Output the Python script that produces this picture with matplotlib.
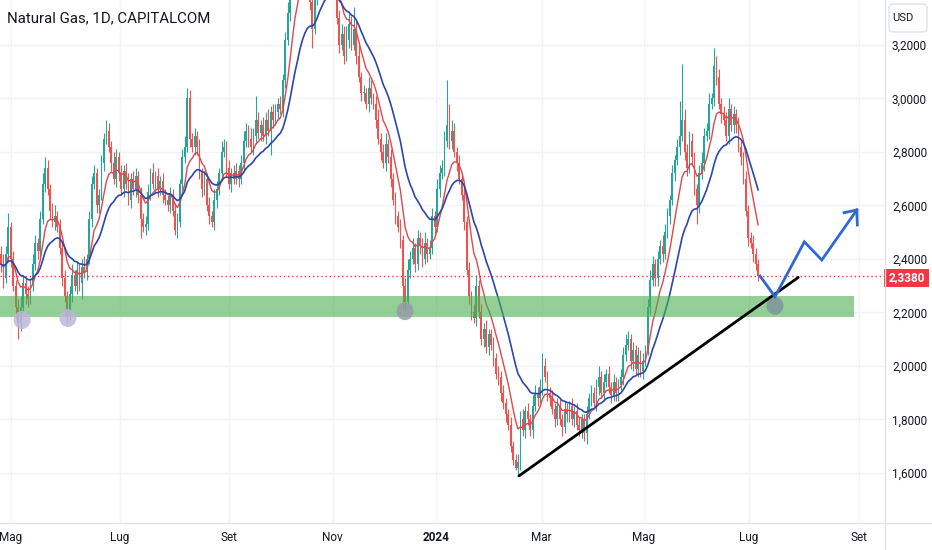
import matplotlib
matplotlib.use('Agg')
import matplotlib.pyplot as plt
import numpy as np
import pandas as pd
from matplotlib.patches import Ellipse, FancyBboxPatch, Rectangle
from matplotlib.lines import Line2D
from matplotlib import font_manager

# ---------------- data ----------------
title = "Natural Gas, 1D, CAPITALCOM"
first_open = 2.42
closes = [
    2.38, 2.33, 2.42, 2.52, 2.40, 2.30, 2.22, 2.16, 2.22, 2.31, 2.27, 2.25,
    2.31, 2.38, 2.46, 2.43, 2.55, 2.68, 2.74, 2.66, 2.58, 2.54, 2.56, 2.52,
    2.44, 2.33, 2.26, 2.19, 2.27, 2.34, 2.30, 2.36, 2.31, 2.37, 2.35, 2.40,
    2.55, 2.68, 2.72, 2.60, 2.64, 2.76, 2.85, 2.88, 2.82, 2.76, 2.70, 2.78,
    2.72, 2.66, 2.73, 2.68, 2.62, 2.70, 2.66, 2.71, 2.64, 2.55, 2.52, 2.53,
    2.65, 2.72, 2.68, 2.71, 2.66, 2.69, 2.64, 2.62, 2.60, 2.64, 2.58, 2.51,
    2.54, 2.68, 2.78, 2.82, 3.00, 2.85, 2.82, 2.86, 2.82, 2.72, 2.66, 2.70,
    2.60, 2.56, 2.54, 2.62, 2.66, 2.72, 2.80, 2.82, 2.74, 2.68, 2.72, 2.70,
    2.73, 2.70, 2.76, 2.84, 2.88, 2.85, 2.82, 2.86, 2.92, 2.87, 2.90, 2.86,
    2.92, 2.88, 2.95, 2.92, 2.95, 2.98, 2.96, 3.07, 3.22, 3.32, 3.45, 3.55,
    3.60, 3.54, 3.62, 3.56, 3.50, 3.44, 3.36, 3.26, 3.38, 3.50, 3.58, 3.54,
    3.56, 3.50, 3.44, 3.48, 3.40, 3.30, 3.20, 3.24, 3.16, 3.22, 3.28, 3.20,
    3.26, 3.16, 3.08, 3.02, 3.02, 2.98, 3.04, 3.00, 2.98, 2.92, 2.85, 2.80,
    2.76, 2.83, 2.78, 2.70, 2.62, 2.56, 2.52, 2.47, 2.30, 2.24, 2.36, 2.40,
    2.44, 2.38, 2.48, 2.45, 2.40, 2.46, 2.42, 2.44, 2.56, 2.52, 2.66, 2.72,
    2.74, 2.84, 2.90, 2.84, 2.88, 2.80, 2.76, 2.70, 2.64, 2.54, 2.36, 2.26,
    2.20, 2.18, 2.30, 2.20, 2.10, 2.14, 2.07, 2.12, 2.08, 2.03, 1.97, 1.96,
    1.90, 1.86, 1.82, 1.78, 1.70, 1.65, 1.62, 1.64, 1.80, 1.76, 1.83, 1.80,
    1.76, 1.85, 1.90, 1.88, 1.92, 2.00, 1.96, 1.90, 1.88, 1.84, 1.80, 1.85,
    1.80, 1.77, 1.84, 1.82, 1.85, 1.80, 1.83, 1.78, 1.76, 1.80, 1.75, 1.82,
    1.88, 1.90, 1.86, 1.92, 1.96, 1.90, 1.94, 1.97, 1.92, 1.89, 1.94, 1.90,
    1.93, 1.96, 2.04, 2.08, 2.10, 2.02, 2.06, 1.99, 2.04, 1.98, 2.02, 2.06,
    2.22, 2.32, 2.38, 2.33, 2.40, 2.45, 2.42, 2.50, 2.56, 2.62, 2.72, 2.77,
    2.82, 2.86, 2.92, 2.80, 2.74, 2.84, 2.78, 2.66, 2.60, 2.72, 2.76, 2.86,
    2.88, 2.98, 3.00, 3.12, 3.08, 2.98, 2.94, 2.92, 2.86, 2.96, 2.90, 2.94,
    2.90, 2.82, 2.78, 2.70, 2.58, 2.48, 2.46, 2.42, 2.38, 2.338,
]
wick_up = [
    .03, .04, .03, .05, .02, .03, .02, .03, .04, .03, .02, .03,
    .02, .04, .03, .02, .03, .04, .04, .03, .02, .03, .04, .02,
    .03, .02, .03, .02, .03, .04, .02, .03, .02, .03, .04, .02,
    .03, .03, .03, .02, .02, .03, .02, .04, .03, .02, .04, .03,
    .02, .03, .02, .03, .04, .02, .03, .03, .02, .03, .02, .03,
    .03, .02, .04, .02, .03, .02, .03, .02, .02, .03, .02, .03,
    .03, .02, .03, .04, .04, .03, .02, .03, .02, .03, .02, .03,
    .02, .03, .02, .04, .03, .02, .04, .03, .02, .03, .02, .03,
    .03, .02, .03, .04, .03, .02, .04, .03, .09, .03, .02, .03,
    .03, .04, .02, .03, .03, .02, .03, .02, .03, .04, .03, .04,
    .04, .03, .04, .03, .03, .04, .03, .02, .03, .04, .03, .02,
    .04, .03, .02, .03, .03, .04, .03, .04, .03, .05, .04, .03,
    .08, .03, .04, .02, .03, .02, .04, .03, .02, .03, .04, .02,
    .03, .04, .02, .03, .02, .03, .02, .03, .02, .03, .04, .03,
    .04, .02, .03, .02, .03, .04, .02, .03, .03, .02, .04, .03,
    .03, .04, .17, .08, .04, .03, .02, .03, .02, .03, .02, .03,
    .02, .03, .04, .02, .03, .02, .03, .02, .02, .03, .02, .03,
    .02, .03, .02, .02, .03, .02, .02, .03, .03, .04, .02, .03,
    .02, .04, .03, .02, .03, .05, .03, .02, .02, .03, .02, .03,
    .03, .02, .03, .02, .02, .03, .02, .03, .03, .02, .02, .03,
    .02, .03, .02, .03, .04, .02, .03, .02, .03, .02, .03, .02,
    .02, .03, .03, .04, .03, .02, .03, .02, .03, .02, .03, .02,
    .03, .04, .03, .02, .03, .02, .04, .03, .03, .02, .03, .02,
    .03, .13, .21, .04, .03, .04, .03, .02, .02, .03, .04, .03,
    .03, .04, .02, .07, .04, .03, .02, .03, .03, .04, .02, .03,
    .02, .03, .02, .02, .03, .02, .02, .03, .02, .02,
]
wick_dn = [
    .03, .04, .02, .03, .03, .02, .04, .06, .03, .02, .04, .03,
    .02, .03, .02, .03, .03, .02, .03, .02, .03, .02, .03, .02,
    .02, .03, .02, .03, .02, .03, .02, .03, .03, .06, .02, .03,
    .02, .03, .02, .03, .03, .02, .03, .02, .02, .03, .02, .03,
    .03, .02, .03, .02, .02, .03, .02, .03, .03, .07, .02, .03,
    .02, .03, .02, .03, .03, .02, .03, .02, .02, .03, .02, .02,
    .03, .02, .03, .02, .02, .03, .02, .03, .03, .02, .03, .02,
    .02, .03, .02, .03, .03, .02, .03, .02, .03, .02, .03, .02,
    .02, .03, .02, .03, .02, .03, .02, .03, .03, .02, .03, .02,
    .03, .02, .09, .03, .02, .03, .02, .03, .03, .02, .03, .02,
    .03, .02, .03, .02, .03, .02, .03, .07, .02, .03, .02, .03,
    .03, .02, .03, .02, .03, .02, .03, .02, .03, .02, .03, .02,
    .02, .03, .02, .03, .03, .02, .03, .02, .02, .03, .02, .03,
    .02, .03, .02, .03, .02, .03, .02, .03, .09, .03, .02, .03,
    .02, .03, .02, .03, .03, .02, .03, .02, .02, .03, .02, .03,
    .02, .03, .02, .03, .03, .02, .03, .02, .02, .03, .02, .03,
    .03, .02, .03, .02, .02, .03, .02, .03, .02, .03, .02, .03,
    .03, .02, .03, .02, .02, .02, .01, .03, .03, .02, .03, .02,
    .02, .03, .02, .03, .02, .03, .02, .03, .03, .02, .03, .02,
    .02, .03, .02, .03, .03, .02, .03, .02, .02, .03, .03, .04,
    .02, .03, .02, .03, .03, .02, .03, .02, .02, .03, .02, .03,
    .03, .02, .03, .02, .02, .03, .04, .02, .03, .02, .03, .02,
    .02, .03, .02, .03, .03, .02, .03, .02, .02, .03, .02, .03,
    .02, .03, .02, .03, .03, .02, .03, .02, .07, .03, .02, .03,
    .02, .03, .02, .03, .03, .02, .03, .02, .02, .03, .02, .03,
    .03, .02, .03, .02, .02, .03, .02, .03, .02, .02,
]
last_price = 2.338

month_labels = ["Mag", "Lug", "Set", "Nov", "2024", "Mar", "Mag", "Lug", "Set"]
month_pos = [3.96, 48.6, 93.1, 135.4, 177.6, 220.7, 262.4, 305.3, 350.2]
price_ticks = [1.6, 1.8, 2.0, 2.2, 2.4, 2.6, 2.8, 3.0, 3.2]

zone_lo, zone_hi, zone_end = 2.184, 2.262, 348.2
trend_x = [211.4, 325.4]
trend_y = [1.589, 2.331]
proj_x = [309.8, 315.9, 327.9, 335.0, 349.3]
proj_y = [2.336, 2.259, 2.464, 2.396, 2.583]
arrow_x = [344.1, 349.3, 349.5]
arrow_y = [2.573, 2.583, 2.527]
circle_x = [8.6, 27.3, 164.9, 315.9]
circle_y = [2.172, 2.179, 2.205, 2.225]
circle_fc = ['#bdb5da', '#bdb5da', '#959ca8', '#7f9699']

# ---------------- figure ----------------
avail = {f.name for f in font_manager.fontManager.ttflist}
FONT = 'Liberation Sans Narrow' if 'Liberation Sans Narrow' in avail else 'Roboto'
plt.rcParams['font.family'] = [FONT, 'DejaVu Sans']

W, H = 932, 550
AX_R, AX_B = 885, 523
fig = plt.figure(figsize=(W / 100, H / 100), dpi=100)
fig.patch.set_facecolor('white')
ax = fig.add_axes([0, 1 - AX_B / H, AX_R / W, AX_B / H])
XL = (-0.41, 360.8)
YL = (1.413, 3.368)
ax.set_xlim(*XL)
ax.set_ylim(*YL)

c = np.array(closes)
o = np.r_[first_open, c[:-1]]
idx = np.arange(len(c))
up = c >= o
cols = np.where(up, '#26a69a', '#ef5350')
blo = np.minimum(o, c)
bhi = np.maximum(o, c)
hi = bhi + np.array(wick_up)
lo = blo - np.array(wick_dn)

# grid
for p in price_ticks:
    ax.axhline(p, color='#f0f3fa', lw=1, zorder=0)
for m in month_pos:
    ax.axvline(m, color='#f0f3fa', lw=1, zorder=0)

ax.vlines(idx, lo, hi, colors=cols, lw=0.8, zorder=2)
ax.bar(idx, np.maximum(bhi - blo, 0.004), bottom=blo, width=0.7, color=cols,
       lw=0, zorder=2)

s = pd.Series(c)
ma_fast = s.ewm(span=9, adjust=False).mean()
ma_slow = s.ewm(span=21, adjust=False).mean()
ax.plot(idx, ma_fast, color='#e0474f', lw=1.0, zorder=3)
ax.plot(idx, ma_slow, color='#2c47a8', lw=1.2, zorder=3)

# last price dotted line
ax.axhline(last_price, color='#f23645', lw=1, ls=(0, (1, 2)), zorder=1)

# zone
ax.add_patch(Rectangle((XL[0], zone_lo), zone_end - XL[0], zone_hi - zone_lo,
                       facecolor='#4caf50', alpha=0.6, lw=0, zorder=4))

# circles (pixel-round)
pxx = (XL[1] - XL[0]) / AX_R
pxy = (YL[1] - YL[0]) / AX_B
for cx, cy, fc in zip(circle_x, circle_y, circle_fc):
    ax.add_patch(Ellipse((cx, cy), 17 * pxx, 18 * pxy, facecolor=fc,
                         alpha=0.85, lw=0, zorder=5))

# trend line and projection
ax.plot(trend_x, trend_y, color='black', lw=2, zorder=6, solid_capstyle='round')
ax.plot(proj_x, proj_y, color='#2f68d3', lw=2, zorder=7, solid_joinstyle='miter')
ax.plot(arrow_x, arrow_y, color='#2f68d3', lw=2, zorder=7, solid_joinstyle='miter')

# axes styling
for sp in ax.spines.values():
    sp.set_visible(False)
ax.yaxis.tick_right()
ax.set_yticks(price_ticks)
ax.set_yticklabels([f"{p:.4f}".replace('.', ',') for p in price_ticks])
ax.tick_params(axis='y', length=0, pad=5, labelsize=8.5, labelcolor='#131722')
ax.set_xticks(month_pos)
ax.set_xticklabels(month_labels)
ax.tick_params(axis='x', length=0, pad=6, labelsize=8.5, labelcolor='#131722')
for t in ax.get_xticklabels():
    if t.get_text() == '2024':
        t.set_fontweight('bold')

# borders
fig.add_artist(Line2D([AX_R / W, AX_R / W], [0, 1], color='#e0e3eb', lw=1,
                      transform=fig.transFigure))
fig.add_artist(Line2D([0, 1], [1 - AX_B / H, 1 - AX_B / H], color='#e0e3eb',
                      lw=1, transform=fig.transFigure))

# title
fig.text(7 / W, 1 - 18 / H, title, fontsize=10.8, color='#131722', va='center',
         ha='left')

# USD box
fig.add_artist(FancyBboxPatch((889 / W, 1 - 32 / H), 38 / W, 28 / H,
                              boxstyle='round,pad=0,rounding_size=0.006',
                              transform=fig.transFigure, facecolor='white',
                              edgecolor='#e0e3eb', lw=1))
fig.text(903 / W, 1 - 18 / H, 'USD', fontsize=8, color='#131722', ha='center',
         va='center')

# price label
fig.add_artist(Rectangle((884 / W, 1 - 287 / H), 45 / W, 18 / H,
                         transform=fig.transFigure, facecolor='#f23645', lw=0))
fig.text(906.5 / W, 1 - 278 / H, f"{last_price:.4f}".replace('.', ','),
         fontsize=8.5, color='white', ha='center', va='center',
         fontweight='bold')

fig.savefig('out.png', dpi=100)
